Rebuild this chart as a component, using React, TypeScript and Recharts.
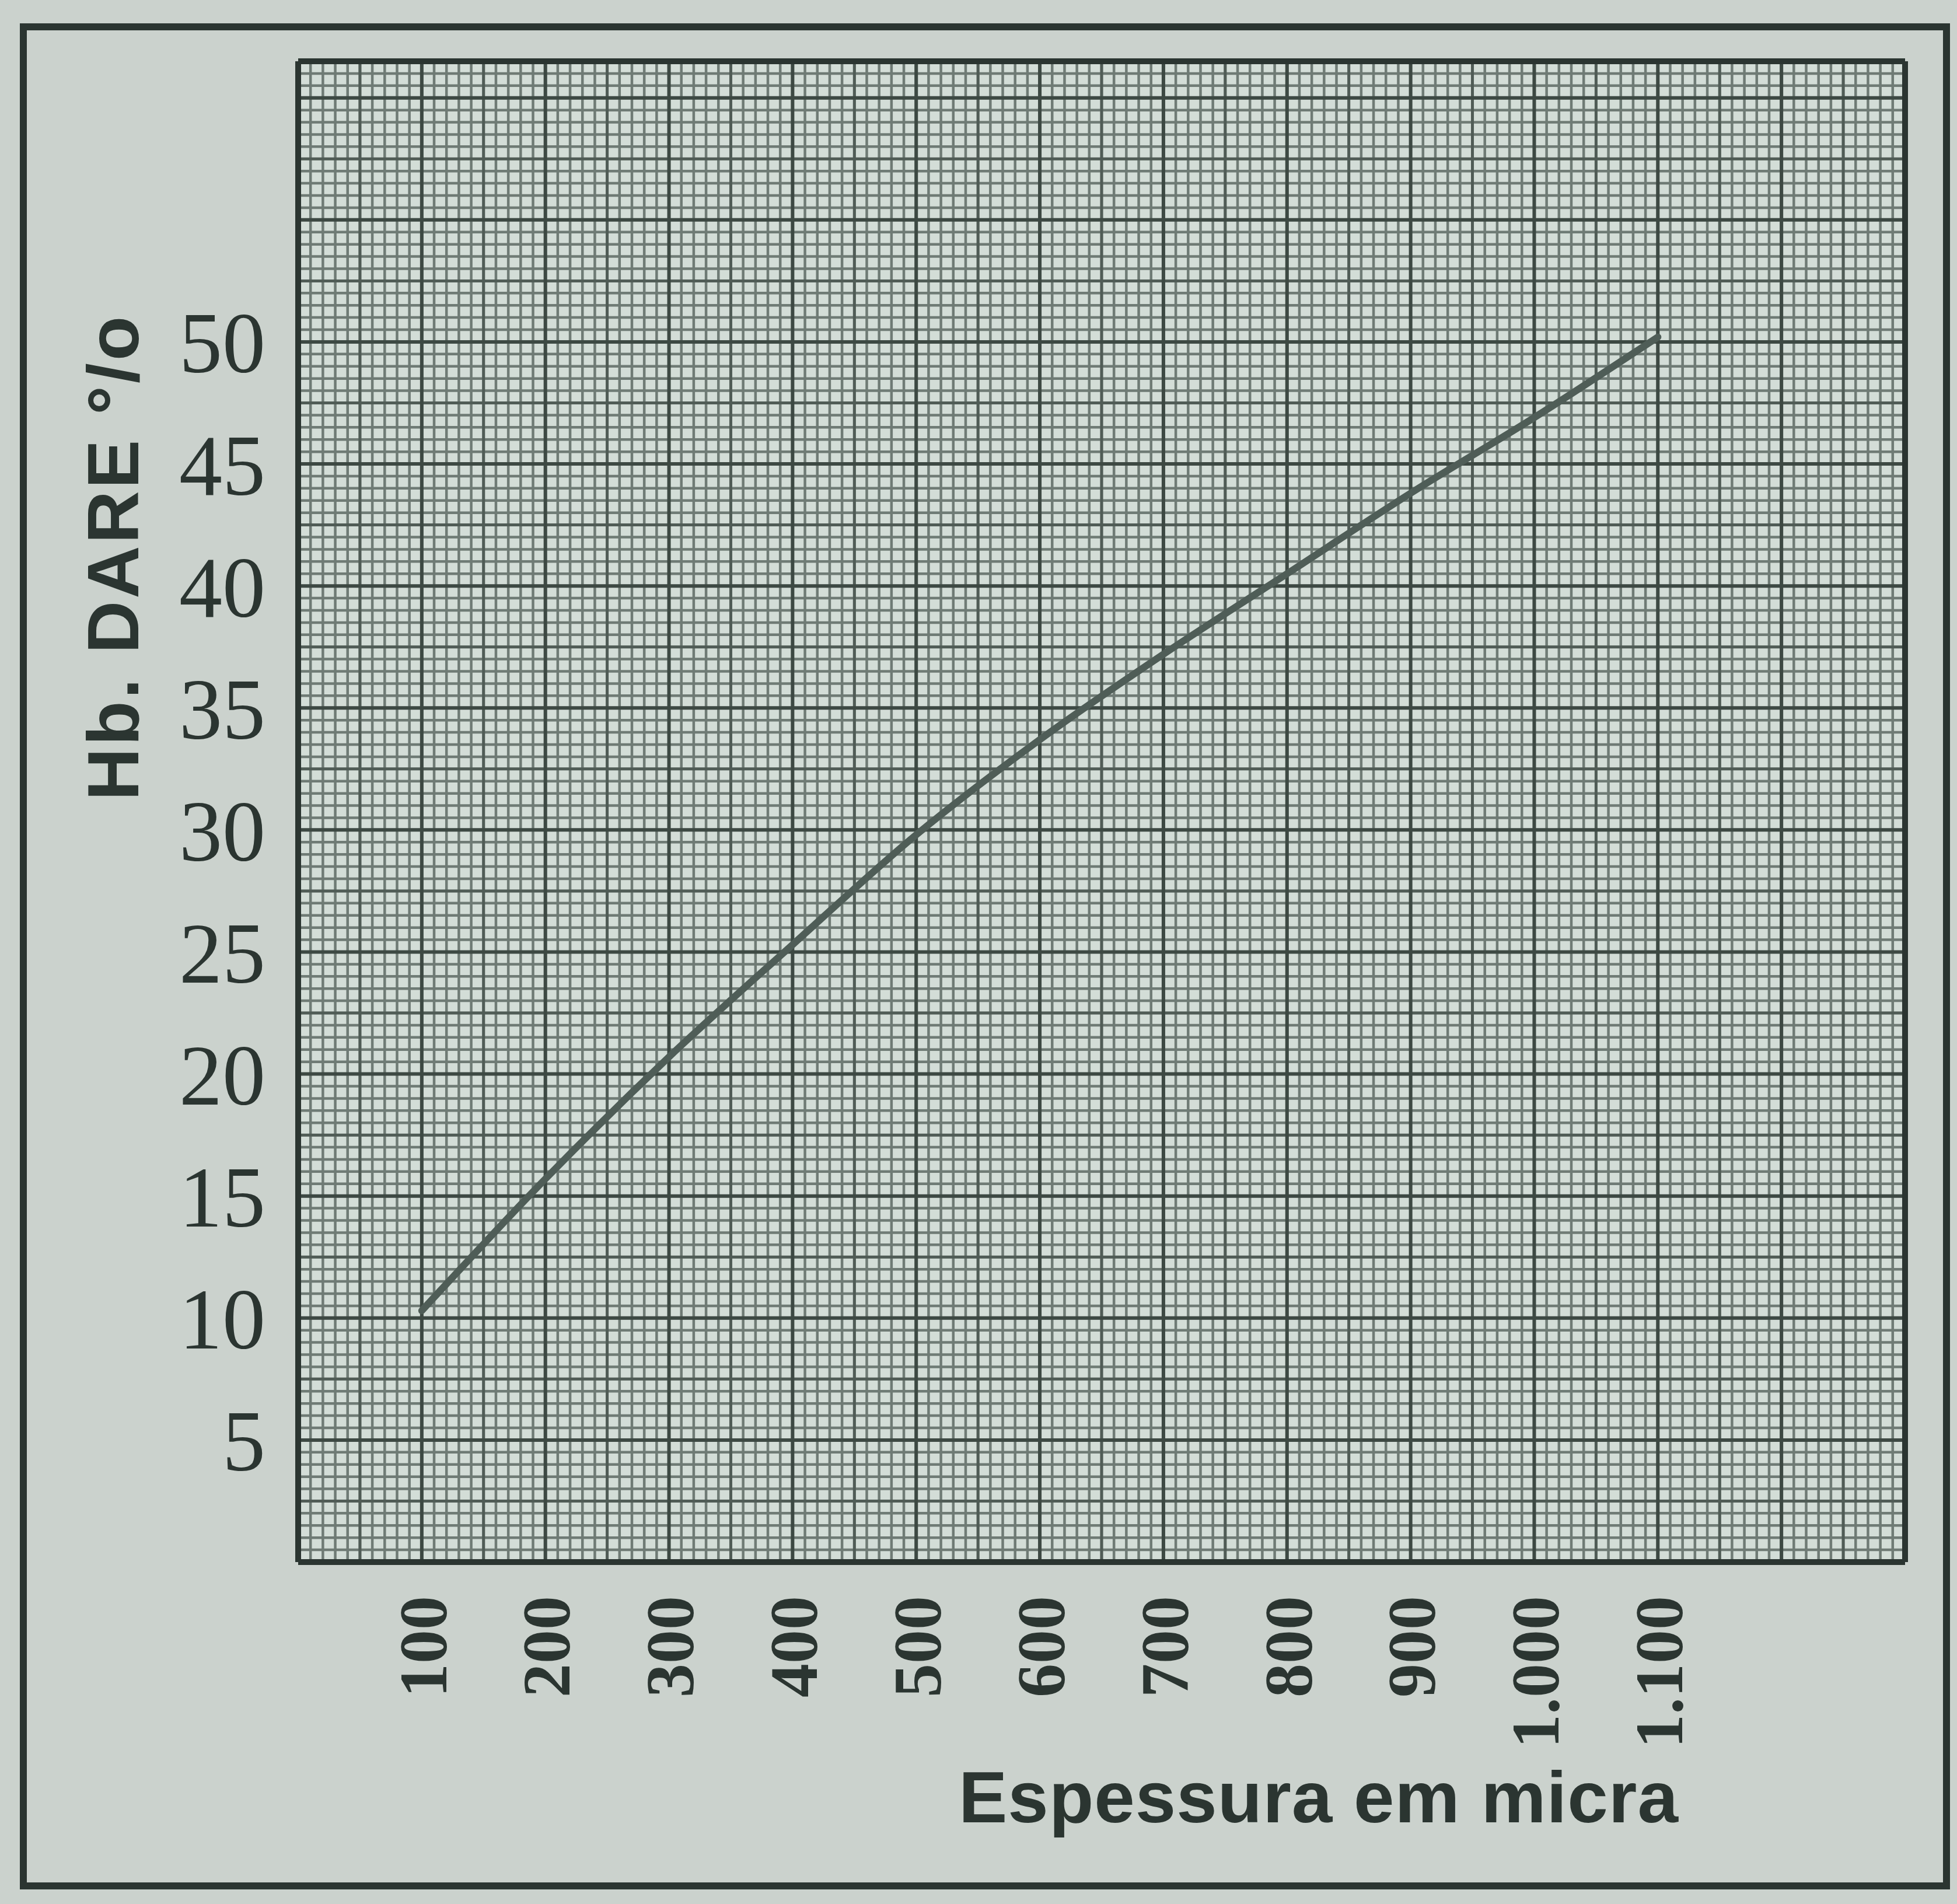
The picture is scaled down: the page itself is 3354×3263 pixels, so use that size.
import { LineChart, Line, XAxis, YAxis, CartesianGrid, Label } from "recharts";

// thickness in microns vs Hb (Dare) %
const thickness = [100, 200, 300, 400, 500, 600, 700, 800, 900, 1000, 1100];
const hbDare = [10.3, 15.7, 20.7, 25.3, 29.8, 33.7, 37.2, 40.5, 43.8, 46.9, 50.2];
const xTickLabels = ["100", "200", "300", "400", "500", "600", "700", "800", "900", "1.000", "1.100"];
const yTicks = [5, 10, 15, 20, 25, 30, 35, 40, 45, 50];

const X_MAX = 1300;
const Y_MAX = 61.5;

// graph paper rulings
const fineX = Array.from({ length: X_MAX / 10 + 1 }, (_, i) => i * 10);
const fineY = Array.from({ length: Y_MAX * 2 + 1 }, (_, i) => i * 0.5);
const midX = fineX.filter((v) => v % 50 === 0);
const midY = fineY.filter((v) => v % 2.5 === 0);
const majorX = fineX.filter((v) => v % 100 === 0);
const majorY = fineY.filter((v) => v % 5 === 0);

const data = thickness.map((x, i) => ({ x, hb: hbDare[i] }));

const INK = "#2b3531";
const PAPER = "#cbd2cd";

const XTick = (props: any) => {
  const { x, y, payload } = props;
  const label = xTickLabels[thickness.indexOf(payload.value)];
  return (
    <text
      x={x}
      y={y}
      transform={`rotate(-90, ${x}, ${y})`}
      textAnchor="end"
      dy="0.36em"
      fontFamily="'Liberation Serif', serif"
      fontWeight={700}
      fontSize={116}
      fill={INK}
    >
      {label}
    </text>
  );
};

export default function App() {
  return (
    <div style={{ position: "relative", width: 3354, height: 3263, background: PAPER, overflow: "hidden" }}>
      <style>{`body{margin:0;background:${PAPER};}`}</style>
      <div
        style={{
          position: "absolute",
          left: 34,
          top: 40,
          width: 3308,
          height: 3198,
          border: `12px solid ${INK}`,
          boxSizing: "border-box",
        }}
      />
      <div style={{ position: "absolute", left: 0, top: 0 }}>
        <LineChart width={3354} height={3263} data={data} margin={{ top: 105, right: 89, bottom: 0, left: 60 }}>
          <CartesianGrid
            fill="#d3ddd7"
            stroke="#6f7b75"
            strokeWidth={4.5}
            verticalValues={fineX}
            horizontalValues={fineY}
          />
          <CartesianGrid fill="none" stroke="#505c56" strokeWidth={5} verticalValues={midX} horizontalValues={midY} />
          <CartesianGrid fill="none" stroke="#3d4943" strokeWidth={6} verticalValues={majorX} horizontalValues={majorY} />
          <CartesianGrid
            fill="none"
            stroke={INK}
            strokeWidth={10}
            verticalValues={[0, X_MAX]}
            horizontalValues={[0, Y_MAX]}
          />
          <XAxis
            dataKey="x"
            type="number"
            domain={[0, X_MAX]}
            ticks={thickness}
            interval={0}
            height={586}
            axisLine={false}
            tickLine={false}
            tickSize={0}
            tickMargin={58}
            tick={<XTick />}
          >
            <Label
              content={(p: any) => {
                const vb = p.viewBox;
                return (
                  <text
                    x={vb.x + vb.width - 388}
                    y={vb.y + 446}
                    textAnchor="end"
                    fontFamily="'Liberation Sans', sans-serif"
                    fontWeight={700}
                    fontSize={125}
                    fill={INK}
                    letterSpacing={1}
                  >
                    Espessura em micra
                  </text>
                );
              }}
            />
          </XAxis>
          <YAxis
            type="number"
            domain={[0, Y_MAX]}
            ticks={yTicks}
            interval={0}
            width={451}
            axisLine={false}
            tickLine={false}
            tickSize={0}
            tickMargin={56}
            tick={{ fontFamily: "'Liberation Serif', serif", fontSize: 148, fill: INK }}
          >
            <Label
              content={() => (
                <text
                  x={237}
                  y={955}
                  transform="rotate(-90, 237, 955)"
                  textAnchor="middle"
                  fontFamily="'Liberation Sans', sans-serif"
                  fontWeight={700}
                  fontSize={125}
                  fill={INK}
                  letterSpacing={4}
                >
                  Hb. DARE °/o
                </text>
              )}
            />
          </YAxis>
          <Line
            type="monotone"
            dataKey="hb"
            stroke="#4f5d57"
            strokeWidth={12}
            strokeLinecap="round"
            dot={false}
            activeDot={false}
            isAnimationActive={false}
          />
        </LineChart>
      </div>
    </div>
  );
}
